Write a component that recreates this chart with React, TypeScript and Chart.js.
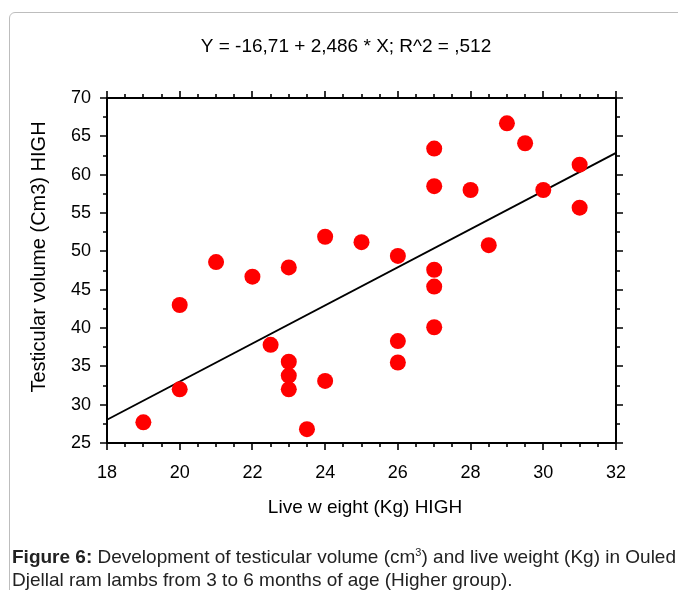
import React, { useEffect, useRef } from "react";
import { Chart, registerables } from "chart.js";

Chart.register(...registerables);

const liveWeight: number[] = [
  19, 20, 20, 21, 22, 22.5, 23, 23, 23, 23, 23.5, 24, 24, 25, 26, 26, 26,
  27, 27, 27, 27, 27, 28, 28.5, 29, 29.5, 30, 31, 31,
];
const testicularVolume: number[] = [
  27.7, 32.0, 43.0, 48.6, 46.7, 37.8, 47.9, 35.6, 33.8, 32.0, 26.8, 33.1, 51.9,
  51.2, 49.4, 38.3, 35.5, 63.4, 58.5, 47.6, 45.4, 40.1, 58.0, 50.8, 66.7, 64.1,
  58.0, 61.3, 55.7,
];
const interceptValue = -16.71;
const slopeValue = 2.486;
const xRange: number[] = [18, 32];
const yRange: number[] = [25, 70];
const xTickValues: number[] = [18, 20, 22, 24, 26, 28, 30, 32];
const yTickValues: number[] = [25, 30, 35, 40, 45, 50, 55, 60, 65, 70];

const titleText = "Y = -16,71 + 2,486 * X; R^2 = ,512";
const xTitle = "Live w eight (Kg) HIGH";
const yTitle = "Testicular volume (Cm3) HIGH";

const FONT = '"Liberation Sans", Arial, sans-serif';

const framePlugin = {
  id: "frameTicks",
  afterDraw(chart: any) {
    const { ctx, chartArea } = chart;
    const { left, right, top, bottom } = chartArea;
    const xs = chart.scales.x;
    const ys = chart.scales.y;
    ctx.save();
    ctx.strokeStyle = "#000";
    ctx.lineWidth = 2;
    ctx.beginPath();
    ctx.rect(left, top, right - left, bottom - top);
    ctx.stroke();
    ctx.lineWidth = 1.6;
    ctx.beginPath();
    for (let v = xRange[0]; v <= xRange[1] + 1e-9; v += 0.5) {
      const p = Math.round(xs.getPixelForValue(v));
      const len = Math.abs(v % 2) < 1e-9 ? 7 : 4;
      ctx.moveTo(p, bottom);
      ctx.lineTo(p, bottom + len);
      ctx.moveTo(p, top);
      ctx.lineTo(p, top - len);
    }
    for (let v = yRange[0]; v <= yRange[1] + 1e-9; v += 2.5) {
      const p = Math.round(ys.getPixelForValue(v));
      const len = Math.abs(v % 5) < 1e-9 ? 7 : 4;
      ctx.moveTo(left, p);
      ctx.lineTo(left - len, p);
      ctx.moveTo(right, p);
      ctx.lineTo(right + len, p);
    }
    ctx.stroke();

    ctx.fillStyle = "#000";
    ctx.textBaseline = "middle";
    ctx.textAlign = "center";
    ctx.font = `19px ${FONT}`;
    ctx.fillText(titleText, 346, 47);
    ctx.fillText(xTitle, 365, 508);
    ctx.font = `20px ${FONT}`;
    ctx.translate(39, 257);
    ctx.rotate(-Math.PI / 2);
    ctx.fillText(yTitle, 0, 0);
    ctx.restore();
  },
};

export default function App() {
  const ref = useRef<HTMLCanvasElement>(null);
  useEffect(() => {
    if (!ref.current) return;
    const points = liveWeight.map((x, i) => ({ x, y: testicularVolume[i] }));
    const fit = xRange.map((x) => ({ x, y: interceptValue + slopeValue * x }));
    const chart = new Chart(ref.current, {
      type: "scatter",
      data: {
        datasets: [
          {
            data: points,
            backgroundColor: "#ff0000",
            borderColor: "#ff0000",
            borderWidth: 0,
            pointRadius: 8,
          },
          {
            data: fit,
            showLine: true,
            borderColor: "#000",
            borderWidth: 1.8,
            pointRadius: 0,
            fill: false,
          } as any,
        ],
      },
      options: {
        responsive: false,
        animation: false,
        events: [],
        layout: { padding: { top: 98, left: 0, right: 62, bottom: 0 } },
        plugins: {
          legend: { display: false },
          title: { display: false },
          tooltip: { enabled: false },
        },
        scales: {
          x: {
            type: "linear",
            min: xRange[0],
            max: xRange[1],
            afterBuildTicks: (s: any) => {
              s.ticks = xTickValues.map((v) => ({ value: v }));
            },
            afterFit: (s: any) => {
              s.height = 87;
            },
            grid: { display: false, drawTicks: false },
            border: { display: false },
            ticks: {
              color: "#000",
              padding: 19,
              font: { size: 18, family: FONT },
              maxRotation: 0,
              autoSkip: false,
            },
          },
          y: {
            type: "linear",
            min: yRange[0],
            max: yRange[1],
            afterBuildTicks: (s: any) => {
              s.ticks = yTickValues.map((v) => ({ value: v }));
            },
            afterFit: (s: any) => {
              s.width = 107;
            },
            grid: { display: false, drawTicks: false },
            border: { display: false },
            ticks: {
              color: "#000",
              padding: 16,
              font: { size: 18, family: FONT },
              autoSkip: false,
            },
          },
        },
      },
      plugins: [framePlugin],
    });
    return () => chart.destroy();
  }, []);

  return (
    <div>
      <div
        style={{
          position: "fixed",
          left: 9,
          top: 12,
          width: 720,
          height: 640,
          border: "1px solid #bdbdbd",
          borderRadius: 6,
          boxSizing: "border-box",
        }}
      />
      <canvas
        ref={ref}
        width={678}
        height={530}
        style={{ position: "fixed", left: 0, top: 0, width: 678, height: 530 }}
      />
      <div
        style={{
          position: "fixed",
          left: 12,
          top: 545,
          width: 680,
          fontFamily: FONT,
          fontSize: 19,
          lineHeight: "23px",
          color: "#222",
          whiteSpace: "nowrap",
        }}
      >
        <div>
          <b>Figure 6:</b> Development of testicular volume (cm
          <sup style={{ fontSize: 11, lineHeight: 0 }}>3</sup>) and live weight (Kg) in Ouled
        </div>
        <div>Djellal ram lambs from 3 to 6 months of age (Higher group).</div>
      </div>
    </div>
  );
}
